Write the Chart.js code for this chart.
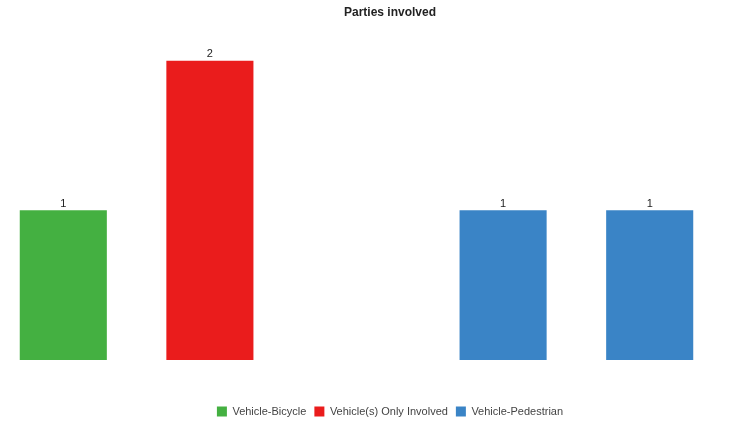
<!DOCTYPE html>
<html>
<head>
<meta charset="utf-8">
<script src="https://cdn.jsdelivr.net/npm/chart.js@4"></script>
<style>
  html, body { margin: 0; padding: 0; background: #fff; overflow: hidden; }
  #wrap { width: 800px; height: 427px; margin-left: -10px; }
</style>
</head>
<body>
<div id="wrap"><canvas id="barChart"></canvas></div>
<script>
// chart data
const categories = ["Vehicle-Bicycle", "Vehicle(s) Only Involved", "", "Vehicle-Pedestrian", "Vehicle-Pedestrian "];
const seriesNames = ["Vehicle-Bicycle", "Vehicle(s) Only Involved", "Vehicle-Pedestrian"];
const bicycleVals = [1, null, null, null, null];
const onlyVals = [null, 2, null, null, null];
const pedestrianVals = [null, null, null, 1, 1];
const seriesColors = ["#44b041", "#ea1c1c", "#3a84c6"];

Chart.defaults.font.family = "'Liberation Sans', Arial, sans-serif";

// draws the count above each bar
const valueLabels = {
  id: 'valueLabels',
  afterDatasetsDraw(chart) {
    const ctx = chart.ctx;
    ctx.save();
    ctx.font = "11px 'Liberation Sans', Arial, sans-serif";
    ctx.fillStyle = "#222";
    ctx.textAlign = "center";
    ctx.textBaseline = "bottom";
    chart.data.datasets.forEach(function(ds, i){
      chart.getDatasetMeta(i).data.forEach(function(bar, j){
        if (ds.data[j] == null) return;
        ctx.fillText(ds.data[j], bar.x, bar.y - 1);
      });
    });
    ctx.restore();
  }
};

const ctxB = document.getElementById("barChart").getContext('2d');
const myBarChart = new Chart(ctxB, {
  type: 'bar',
  data: {
    labels: categories,
    datasets: [
      { label: seriesNames[0], data: bicycleVals, backgroundColor: seriesColors[0] },
      { label: seriesNames[1], data: onlyVals, backgroundColor: seriesColors[1] },
      { label: seriesNames[2], data: pedestrianVals, backgroundColor: seriesColors[2] }
    ]
  },
  options: {
    responsive: true,
    maintainAspectRatio: false,
    animation: false,
    datasets: { bar: { categoryPercentage: 1, barPercentage: 0.594 } },
    scales: {
      x: {
        stacked: true,
        grid: { display: false },
        border: { display: false },
        ticks: { display: false },
        afterFit: function(scale){ scale.height = 38; }
      },
      y: {
        stacked: true,
        position: 'right',
        min: 0,
        max: 2,
        grid: { display: false },
        border: { display: false },
        ticks: { display: false },
        afterFit: function(scale){ scale.width = 67; }
      }
    },
    plugins: {
      title: {
        display: true,
        text: "Parties involved",
        color: "#222",
        font: { size: 12, weight: 'bold' },
        padding: { top: 5, bottom: 41 }
      },
      legend: {
        position: 'bottom',
        labels: { boxWidth: 10, boxHeight: 10, color: "#444", font: { size: 11 }, padding: 8 }
      },
      tooltip: { enabled: false }
    }
  },
  plugins: [valueLabels]
});
</script>
</body>
</html>
